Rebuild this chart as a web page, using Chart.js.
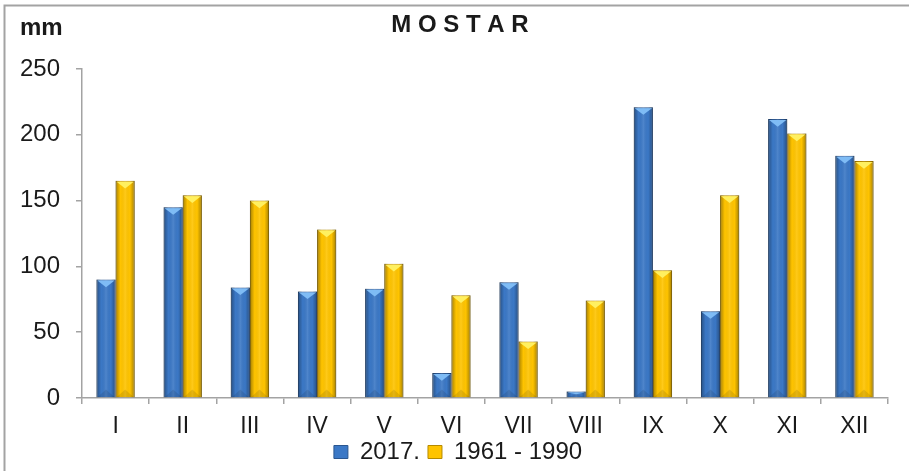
<!DOCTYPE html>
<html>
<head>
<meta charset="utf-8">
<script src="https://cdn.jsdelivr.net/npm/chart.js@4.4.1/dist/chart.umd.min.js"></script>
<style>
  html, body { margin: 0; padding: 0; background: #fff; }
  #wrap { width: 909px; height: 471px; }
</style>
</head>
<body>
<div id="wrap"><canvas id="grafico"></canvas></div>
<script>
// podaci očitani s grafikona (mm)
const mjeseci = ['I', 'II', 'III', 'IV', 'V', 'VI', 'VII', 'VIII', 'IX', 'X', 'XI', 'XII'];
const oborine2017 = [90, 145, 84, 81, 83, 19, 88, 5, 221, 66, 212, 184];
const prosjek6190 = [165, 154, 150, 128, 102, 78, 43, 74, 97, 154, 201, 180];
const yTicks = [0, 50, 100, 150, 200, 250];

const FONT = 'Liberation Sans, Arial, sans-serif';
const SIVA = '#a3a3a3';

// okvir, naslov i oznaka "mm"
const okvirPlugin = {
    id: 'okvir',
    afterLayout(chart) {
        // legenda malo niže i desno kao u originalu
        const lg = chart.legend;
        const pomakY = 432 - lg.top;
        lg.top += pomakY; lg.bottom += pomakY;
        lg.left += 12; lg.right += 12;
    },
    afterDraw(chart) {
        const c = chart.ctx;
        c.save();
        c.strokeStyle = SIVA;
        c.lineWidth = 2;
        c.beginPath();
        c.moveTo(4.5, 471);
        c.lineTo(4.5, 5.5);
        c.lineTo(909, 5.5);
        c.stroke();

        c.fillStyle = '#1a1a1a';
        c.textBaseline = 'middle';
        c.font = 'bold 24px ' + FONT;
        c.textAlign = 'left';
        c.fillText('mm', 20, 28);
        c.textAlign = 'center';
        c.fillText('M O S T A R', 460, 25);
        c.restore();
    }
};

// sjenčanje stupaca (efekt "bevel" kao u Excelu)
const sjenaPlugin = {
    id: 'sjena',
    afterDatasetsDraw(chart) {
        const c = chart.ctx;
        chart.data.datasets.forEach((ds, di) => {
            const meta = chart.getDatasetMeta(di);
            meta.data.forEach(bar => {
                const w = bar.width;
                const l = bar.x - w / 2, r = bar.x + w / 2;
                const top = bar.y, bot = bar.base;
                const h = bot - top;
                if (h <= 0) return;
                c.save();
                const g = c.createLinearGradient(l, 0, r, 0);
                g.addColorStop(0, 'rgba(0,0,0,0.35)');
                g.addColorStop(0.25, 'rgba(0,0,0,0.0)');
                g.addColorStop(0.5, 'rgba(255,255,255,0.10)');
                g.addColorStop(0.75, 'rgba(0,0,0,0.0)');
                g.addColorStop(1, 'rgba(0,0,0,0.35)');
                c.fillStyle = g;
                c.fillRect(l, top, w, h);
                // gornji trokut
                const d = Math.min(w * 0.4, h / 2);
                c.fillStyle = ds.vrhBoja;
                c.beginPath();
                c.moveTo(l + 1, top + 1);
                c.lineTo(r - 1, top + 1);
                c.lineTo(bar.x, top + d);
                c.closePath();
                c.fill();
                // donji trokut, tamniji
                c.fillStyle = 'rgba(0,0,0,0.10)';
                c.beginPath();
                c.moveTo(l + 1, bot);
                c.lineTo(r - 1, bot);
                c.lineTo(bar.x, bot - d);
                c.closePath();
                c.fill();
                c.restore();
            });
        });
    }
};

new Chart(document.getElementById('grafico'), {
    type: 'bar',
    data: {
        labels: mjeseci,
        datasets: [
            {
                label: '2017.',
                data: oborine2017,
                backgroundColor: '#3b78c6',
                borderColor: '#2a5690',
                borderWidth: 1,
                vrhBoja: '#7fbcf5',
                categoryPercentage: 0.57,
                barPercentage: 1.0
            },
            {
                label: '1961 - 1990',
                data: prosjek6190,
                backgroundColor: '#ffc400',
                borderColor: '#b58a00',
                borderWidth: 1,
                vrhBoja: '#fff060',
                categoryPercentage: 0.57,
                barPercentage: 1.0
            }
        ]
    },
    options: {
        responsive: true,
        maintainAspectRatio: false,
        animation: false,
        layout: { padding: { top: 69, left: 4, right: 21, bottom: 0 } },
        plugins: {
            tooltip: { enabled: false },
            legend: {
                position: 'bottom',
                maxHeight: 30,
                labels: {
                    font: { family: FONT, size: 24 },
                    color: '#1a1a1a',
                    boxWidth: 14,
                    boxHeight: 13,
                    padding: 8,
                    generateLabels(chart) {
                        return chart.data.datasets.map((ds, i) => ({
                            text: ds.label,
                            fillStyle: ds.backgroundColor,
                            strokeStyle: ds.borderColor,
                            lineWidth: 1,
                            datasetIndex: i,
                            fontColor: '#1a1a1a'
                        }));
                    }
                }
            }
        },
        scales: {
            x: {
                grid: { drawOnChartArea: false, tickLength: 6, color: SIVA, lineWidth: 1.5 },
                border: { color: SIVA, width: 1.5 },
                ticks: { font: { family: FONT, size: 23 }, color: '#1a1a1a', padding: 9 },
                afterFit(s) { s.height = 43; }
            },
            y: {
                min: 0,
                max: 250,
                afterBuildTicks(s) { s.ticks = yTicks.map(v => ({ value: v })); },
                grid: { drawOnChartArea: false, tickLength: 6, color: SIVA, lineWidth: 1.5 },
                border: { color: SIVA, width: 1.5 },
                ticks: { font: { family: FONT, size: 24 }, color: '#1a1a1a', padding: 16 },
                afterFit(s) { s.width = 78; }
            }
        }
    },
    plugins: [okvirPlugin, sjenaPlugin]
});
</script>
</body>
</html>
